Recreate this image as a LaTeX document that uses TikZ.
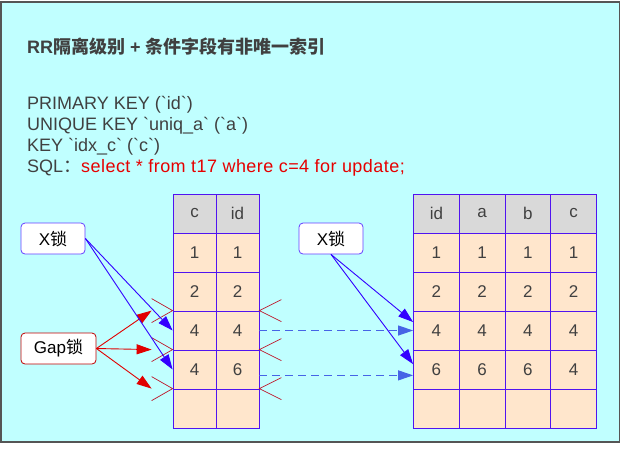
\documentclass[tikz,border=0pt]{standalone}
\usepackage{fontspec}
\setmainfont{Liberation Sans}[Ligatures=TeXOff]
\newfontfamily\cjk{Noto Sans CJK SC}
\usetikzlibrary{arrows.meta}

\definecolor{panel}{RGB}{192,255,255}
\definecolor{panelline}{RGB}{85,85,85}
\definecolor{cellline}{RGB}{80,20,240}
\definecolor{headfill}{RGB}{217,217,217}
\definecolor{rowfill}{RGB}{255,230,204}
\definecolor{ink}{RGB}{64,64,64}
\definecolor{lockblue}{RGB}{51,0,255}
\definecolor{dashblue}{RGB}{70,100,230}
\definecolor{gapred}{RGB}{225,0,0}
\definecolor{markred}{RGB}{190,20,40}
\definecolor{sqlred}{RGB}{230,0,0}

\newcommand{\zh}[1]{{\cjk #1}}

\begin{document}
\begin{tikzpicture}[x=1pt, y=-1pt,
    cell/.style={draw=cellline, line width=0.8pt, fill=rowfill, inner sep=0pt, minimum height=39pt, text=ink, font=\fontsize{17}{17}\selectfont},
    head/.style={cell, fill=headfill},
    lockbox/.style={rounded corners=4pt, fill=white, line width=0.8pt, minimum height=31pt, inner sep=0pt, text=black, font=\fontsize{17}{17}\selectfont},
    keytext/.style={anchor=base west, inner sep=0pt, text=ink, font=\fontsize{18}{18}\selectfont},
    xarrow/.style={lockblue, line width=0.9pt, -{Triangle[length=15pt,width=10pt]}},
    linkarrow/.style={dashblue, line width=1pt, dash pattern=on 8pt off 5pt, -{Triangle[length=15pt,width=10pt]}},
    gaparrow/.style={gapred, line width=0.9pt, -{Triangle[length=15pt,width=10pt]}},
    gapmark/.style={markred, line width=0.7pt}]
    \useasboundingbox (0,0) rectangle (626,448);
    \fill[white] (0,0) rectangle (626,448);
    \draw[panelline, fill=panel, line width=1.2pt] (1,2) rectangle (619.5,442);

    \node[keytext, font=\bfseries\fontsize{18}{18}\selectfont] (title) at (27,53) {RR\zh{隔离级别} + \zh{条件字段有非唯一索引}};
    \node[keytext] (k1) at (27,109) {PRIMARY KEY (`id`)};
    \node[keytext] (k2) at (27,130) {UNIQUE KEY `uniq\_a` (`a`)};
    \node[keytext] (k3) at (27,151) {KEY `idx\_c` (`c`)};
    \node[keytext] (k4) at (27,172) {SQL\zh{：}\textcolor{sqlred}{\addfontfeature{LetterSpace=2.5}select * from t17 where c=4 for update;}};

    % index on c
    \foreach \v [count=\j] in {c,id}
      \node[head, minimum width=43pt] (ix-0-\j) at (151.5+43*\j,213.5) {\v};
    \foreach \row [count=\i] in {{1,1},{2,2},{4,4},{4,6},{{},{}}}
      \foreach \v [count=\j] in \row
        \node[cell, minimum width=43pt] (ix-\i-\j) at (151.5+43*\j,213.5+39*\i) {\v};

    % primary key
    \foreach \v [count=\j] in {id,a,b,c}
      \node[head, minimum width=45.75pt] (pk-0-\j) at (390.625+45.75*\j,213.5) {\v};
    \foreach \row [count=\i] in {{1,1,1,1},{2,2,2,2},{4,4,4,4},{6,6,6,4},{{},{},{},{}}}
      \foreach \v [count=\j] in \row
        \node[cell, minimum width=45.75pt] (pk-\i-\j) at (390.625+45.75*\j,213.5+39*\i) {\v};

    \node[lockbox, draw=lockblue!75, minimum width=64pt] (xl) at (53,238.5) {X\zh{锁}};
    \node[lockbox, draw=gapred!85!black, minimum width=75pt] (gap) at (58.5,348.5) {Gap\zh{锁}};
    \node[lockbox, draw=lockblue!75, minimum width=64pt] (xr) at (331,238.5) {X\zh{锁}};

    \foreach \i in {3,4,5} {
      \draw[gapmark] (ix-\i-1.north west) ++(-21,-12) -- (ix-\i-1.north west) -- ++(-21,12);
      \draw[gapmark] (ix-\i-2.north east) ++(22,-11) -- (ix-\i-2.north east) -- ++(22,11);
      \coordinate (g\i) at ([xshift=-21pt]ix-\i-1.north west);
      \draw[gaparrow] (gap.east) -- (g\i);
    }

    \draw[xarrow] (xl.east) -- (ix-3-1.west);
    \draw[xarrow] (xl.east) -- (ix-4-1.west);
    \draw[xarrow] (xr.south) -- (pk-3-1.160);
    \draw[xarrow] (xr.south) -- (pk-4-1.167);
    \draw[linkarrow] (ix-3-2.east) -- (pk-3-1.west);
    \draw[linkarrow] (ix-4-2.-15) -- (ix-4-2.-15 -| pk-4-1.west);
\end{tikzpicture}
\end{document}
